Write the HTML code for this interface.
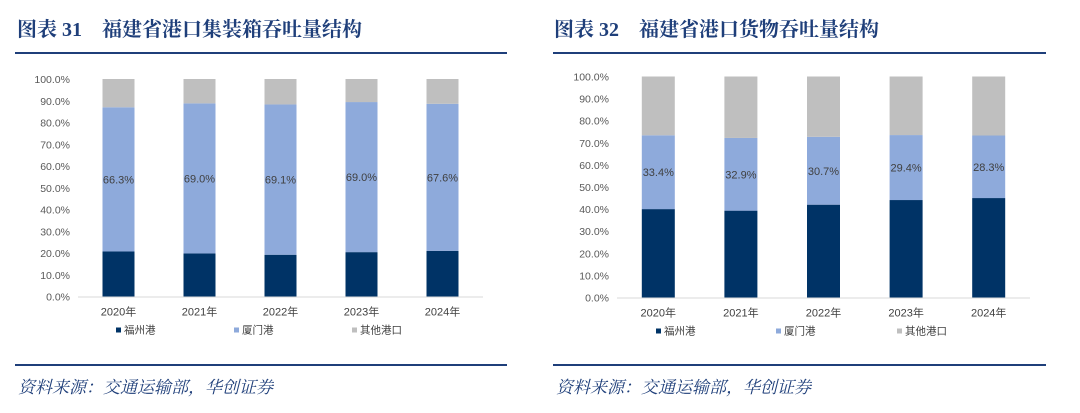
<!DOCTYPE html>
<html><head><meta charset="utf-8"><style>
body{margin:0;width:1080px;height:413px;background:#fff;overflow:hidden;font-family:"Liberation Sans","Noto Sans CJK SC",sans-serif}
.t{position:absolute;top:13px;font-family:"Liberation Serif","Noto Serif CJK SC",serif;font-weight:bold;font-size:20px;color:#1f3f7a;white-space:nowrap}
.ln{position:absolute;height:2px;background:#1f3f7a}
.src{position:absolute;top:373px;font-family:"Liberation Serif","Noto Serif CJK SC",serif;font-style:italic;font-size:17px;color:#1f3f7a}
</style></head><body>
<div class="t" style="left:17px">图表 31　福建省港口集装箱吞吐量结构</div>
<div class="t" style="left:554px">图表 32　福建省港口货物吞吐量结构</div>
<div class="ln" style="left:15px;top:52px;width:492px"></div>
<div class="ln" style="left:553px;top:52px;width:493px"></div>
<div class="ln" style="left:15px;top:364px;width:492px"></div>
<div class="ln" style="left:553px;top:364px;width:493px"></div>
<div class="src" style="left:18px">资料来源：交通运输部，华创证券</div>
<div class="src" style="left:556px">资料来源：交通运输部，华创证券</div>
<svg id="svg" width="1080" height="413" style="position:absolute;left:0;top:0"></svg>
<script>
const categories=["2020年","2021年","2022年","2023年","2024年"];
const yTicks=["0.0%","10.0%","20.0%","30.0%","40.0%","50.0%","60.0%","70.0%","80.0%","90.0%","100.0%"];
const seriesNames=["福州港","厦门港","其他港口"];
const containerFuzhou=[20.7,19.8,19.2,20.4,21.0];
const containerXiamen=[66.3,69.0,69.1,69.0,67.6];
const cargoFuzhou=[40.0,39.3,42.0,44.1,45.0];
const cargoXiamen=[33.4,32.9,30.7,29.4,28.3];
const colors=["#003366","#8eaadb","#bfbfbf"];
const svg=document.getElementById('svg');
const NS='http://www.w3.org/2000/svg';
function mk(tag,attrs,parent){const e=document.createElementNS(NS,tag);for(const k in attrs)e.setAttribute(k,attrs[k]);(parent||svg).appendChild(e);return e;}
function chart(id,cfg,fz,xm){
  const g=mk('g',{});
  
  
  const y=v=>cfg.y0-(v/100)*(cfg.y0-cfg.y100);
  const x=i=>cfg.x0+(i+0.5)*(cfg.x1-cfg.x0)/categories.length;
  yTicks.forEach((t,i)=>{const tx=mk('text',{x:cfg.x0-8,y:y(i*10)+4,'text-anchor':'end','font-size':10.5,fill:'#595959'},g);tx.textContent=t;
    
    });
  categories.forEach((c,i)=>{
    const vals=[fz[i],xm[i],100-fz[i]-xm[i]];let acc=0;
    vals.forEach((v,s)=>{const r=mk('rect',{x:x(i)-cfg.bw/2,y:y(acc+v),width:cfg.bw,height:y(acc)-y(acc+v),fill:colors[s]},g);
      
      acc+=v;});
    const lb=mk('text',{x:x(i),y:y(fz[i]+xm[i]/2)+4,'text-anchor':'middle','font-size':11,fill:'#404040'},g);lb.textContent=xm[i].toFixed(1)+'%';
    
    
    const xl=mk('text',{x:x(i),y:cfg.y0+19,'text-anchor':'middle','font-size':11,fill:'#404040'},g);xl.textContent=c;
    
    
  });
  const ax=mk('line',{x1:cfg.x0,x2:cfg.x1,y1:cfg.y0+0.5,y2:cfg.y0+0.5,stroke:'#d9d9d9','stroke-width':1},g);
  
  
  seriesNames.forEach((n,s)=>{const lx=cfg.legX[s];
    const sq=mk('rect',{x:lx,y:cfg.y0+31,width:5,height:5,fill:colors[s]},g);
    
    
    const t=mk('text',{x:lx+8,y:cfg.y0+37,'font-size':10.5,fill:'#404040'},g);t.textContent=n;
    
    });
}
chart('container-chart',{x0:78,x1:483,y0:296.5,y100:79,bw:32,legX:[116,234,352]},containerFuzhou,containerXiamen);
chart('cargo-chart',{x0:617,x1:1030,y0:297.5,y100:76.5,bw:33,legX:[656,776,897]},cargoFuzhou,cargoXiamen);
</script>
</body></html>
